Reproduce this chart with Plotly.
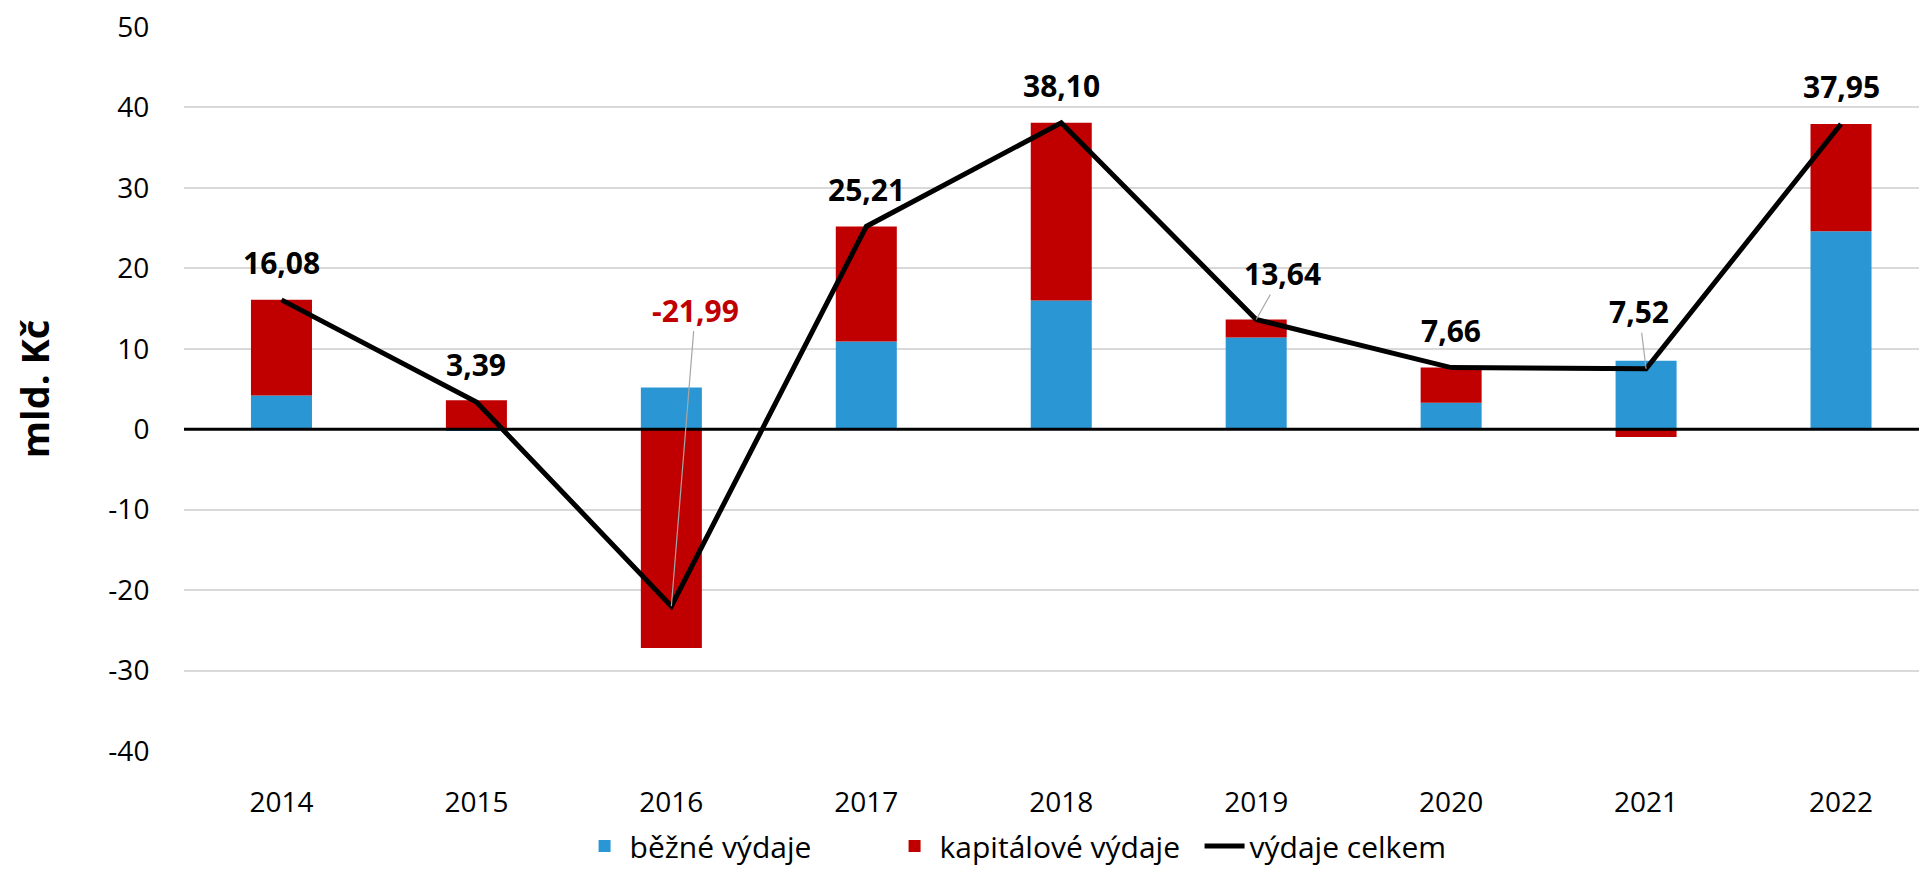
import plotly.graph_objects as go

years = ["2014", "2015", "2016", "2017", "2018", "2019", "2020", "2021", "2022"]
bezne = [4.2, -0.2, 5.2, 10.9, 16.0, 11.4, 3.3, 8.5, 24.6]
kapitalove = [11.88, 3.59, -27.19, 14.31, 22.1, 2.24, 4.36, -0.98, 13.35]
celkem = [16.08, 3.39, -21.99, 25.21, 38.10, 13.64, 7.66, 7.52, 37.95]

y_tickvals = [-40, -30, -20, -10, 0, 10, 20, 30, 40, 50]
y_ticktext = ["-40", "-30", "-20", "-10", "0", "10", "20", "30", "40", "50"]

BLUE = "#2A97D4"
RED = "#C00000"
FONT = "Open Sans"

fig = go.Figure()
fig.add_trace(go.Bar(x=years, y=bezne, name="běžné výdaje", marker=dict(color=BLUE, line=dict(width=0)),
                     width=0.313))
fig.add_trace(go.Bar(x=years, y=kapitalove, name="kapitálové výdaje", marker=dict(color=RED, line=dict(width=0)),
                     width=0.313))
fig.add_trace(go.Scatter(x=years, y=celkem, name="výdaje celkem", mode="lines",
                         line=dict(color="black", width=5)))

# data labels
leader = {2: (24, -296), 5: (26, -46), 7: (-7, -57)}
for i, v in enumerate(celkem):
    txt = f"{v:.2f}".replace(".", ",")
    color = RED if v < 0 else "black"
    if i in leader:
        ax, ay = leader[i]
        fig.add_annotation(x=i, y=v, text=f"<b>{txt}</b>", showarrow=True, arrowhead=0,
                           arrowwidth=1.2, arrowcolor="#a6a6a6", ax=ax, ay=ay,
                           font=dict(family=FONT, size=30, color=color), borderpad=0)
    else:
        fig.add_annotation(x=i, y=v, text=f"<b>{txt}</b>", showarrow=False, yshift=37,
                           yanchor="middle", font=dict(family=FONT, size=30, color=color))

fig.add_shape(type="line", xref="paper", x0=0, x1=1, yref="y", y0=0, y1=0,
              line=dict(color="black", width=3), layer="above")

fig.update_layout(
    width=1919, height=872,
    margin=dict(l=184, r=0, t=27, b=121, autoexpand=False),
    paper_bgcolor="white", plot_bgcolor="white",
    barmode="relative",
    font=dict(family=FONT, size=28, color="black"),
    showlegend=True,
    legend=dict(orientation="h", xref="paper", x=0.228, xanchor="left",
                yref="container", y=-0.006, yanchor="bottom",
                font=dict(family=FONT, size=30, color="black"), traceorder="normal",
                itemwidth=40, entrywidth=255, entrywidthmode="pixels"),
    xaxis=dict(type="category", range=[-0.5, 8.4], showgrid=False, showline=False,
               ticks="outside", ticklen=26, tickcolor="rgba(0,0,0,0)",
               tickfont=dict(family=FONT, size=28, color="black")),
    yaxis=dict(range=[-40, 50], tickvals=y_tickvals, ticktext=y_ticktext,
               showgrid=True, gridcolor="#d9d9d9", gridwidth=1.5, zeroline=False,
               ticks="outside", ticklen=28, tickcolor="rgba(0,0,0,0)",
               tickfont=dict(family=FONT, size=28, color="black"),
               title=dict(text="<b>mld. Kč</b>", font=dict(family=FONT, size=38, color="black"),
                          standoff=47)),
)

fig.write_html("out.html", config={"displayModeBar": False},
               post_script="document.body.style.margin='0';document.body.style.overflow='hidden';")
